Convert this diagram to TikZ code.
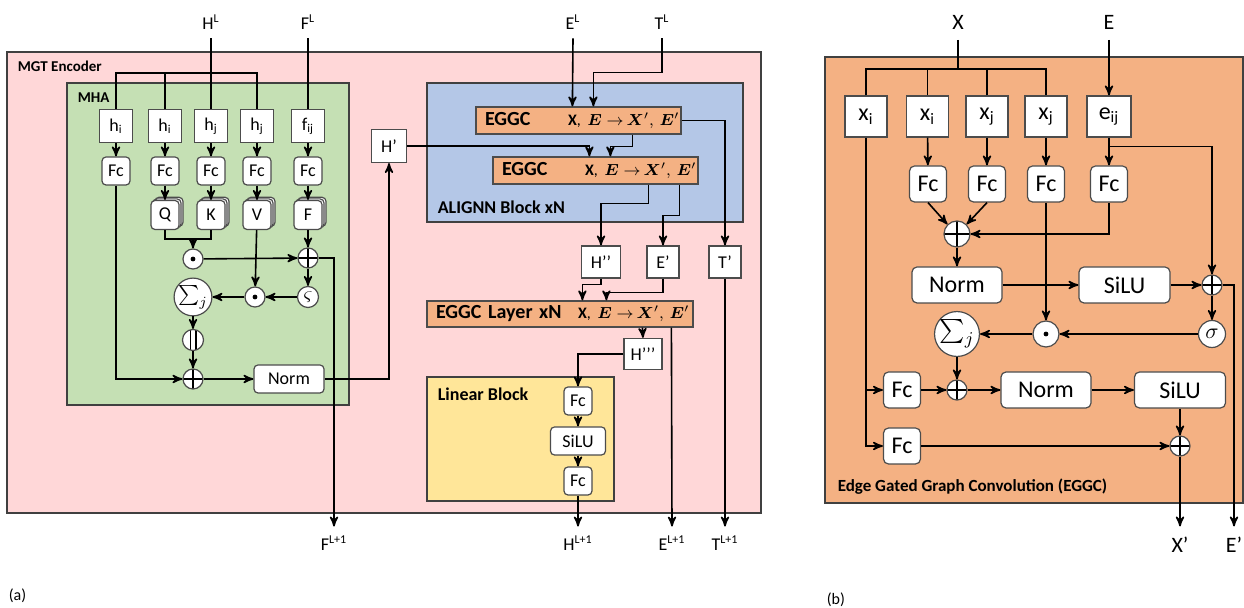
\documentclass[tikz,border=0pt]{standalone}
\usepackage{amsmath}
\usepackage{fontspec}
\setmainfont{Carlito}
\usepackage{tikz}
\usetikzlibrary{arrows,fit,shadows}

\definecolor{encpink}{HTML}{FFD7D8}
\definecolor{mhagreen}{HTML}{C5E0B4}
\definecolor{alignblue}{HTML}{B4C7E7}
\definecolor{eggcorange}{HTML}{F4B183}
\definecolor{linyellow}{HTML}{FFE699}

\newcommand{\eggcline}[2]{\mbox{\makebox[#1][l]{\fontsize{10}{12}\selectfont\textbf{#2}}%
  {\fontsize{8}{10}\selectfont\textbf{X},\ $\boldsymbol{E}\;{\rightarrow}\,\boldsymbol{X}',\,\boldsymbol{E}'$}}}

\begin{document}
\begin{tikzpicture}[->, >=stealth', thick, x=0.5pt, y=-0.5pt]
    \tikzstyle{cont}=[draw=black!75, line width=1pt, inner sep=0pt]
    \tikzstyle{title}=[anchor=west, inner sep=0pt, font=\bfseries\fontsize{7.5}{9}\selectfont]
    \tikzstyle{lbl}=[inner sep=4pt, font=\fontsize{9}{10}\selectfont]
    \tikzstyle{sqbox}=[draw=black!70, fill=white, minimum width=16.5pt, minimum height=16.5pt,
                       inner sep=0pt, semithick, font=\fontsize{9}{10}\selectfont]
    \tikzstyle{fcbox}=[sqbox, rounded corners=2pt, minimum width=14pt, minimum height=14pt]
    \tikzstyle{stackbox}=[fcbox, minimum height=14.5pt,
                          double copy shadow={shadow xshift=1pt, shadow yshift=0.8pt, draw=black!70, fill=white}]
    \tikzstyle{opc}=[circle, draw=black!70, fill=white, minimum size=10pt, inner sep=0pt, semithick,
                     font=\fontsize{10}{12}\selectfont]
    \tikzstyle{plusop}=[opc, path picture={\draw[-, black] (path picture bounding box.north) -- (path picture bounding box.south)
                        (path picture bounding box.west) -- (path picture bounding box.east);}]
    \tikzstyle{dotop}=[opc, path picture={\fill[black] (path picture bounding box.center) circle (1.2pt);}]
    \tikzstyle{catop}=[opc, minimum size=10.5pt,
                       path picture={\draw[-, black, line width=0.9pt]
                        ([xshift=-1.3pt]path picture bounding box.north) -- ([xshift=-1.3pt]path picture bounding box.south)
                        ([xshift=1.3pt]path picture bounding box.north) -- ([xshift=1.3pt]path picture bounding box.south);}]
    \tikzstyle{eggcbar}=[draw=black!70, fill=eggcorange, semithick, inner xsep=4.5pt, inner ysep=0pt,
                         minimum height=13.5pt, align=left]
    \tikzstyle{blbl}=[inner sep=5pt, font=\fontsize{11}{13}\selectfont]
    \tikzstyle{bbox}=[sqbox, minimum width=21pt, minimum height=20.5pt, font=\fontsize{12}{14}\selectfont]
    \tikzstyle{bfc}=[bbox, rounded corners=2.5pt, minimum width=18.5pt, minimum height=18pt]
    \tikzstyle{bop}=[opc, minimum size=13.5pt, font=\fontsize{11}{13}\selectfont]

    \useasboundingbox (0,0) rectangle (1244,608);

    % containers
    \node[cont, fill=encpink, fit={(7,52) (761,513)}]     (enc)       {};
    \node[cont, fill=mhagreen, fit={(67,83) (349,405)}]   (mha)       {};
    \node[cont, fill=alignblue, fit={(427,83) (743,222)}] (alignn)    {};
    \node[cont, fill=linyellow, fit={(427,377) (614,501)}] (linear)   {};
    \node[cont, fill=eggcorange, fit={(825,57) (1243,503)}] (eggcpanel) {};

    \node[title] (encT) at (17,66)  {MGT Encoder};
    \node[title] (mhaT) at (77,98)  {MHA};
    \node[title, font=\bfseries\fontsize{9}{11}\selectfont] (alT)  at (437,207) {ALIGNN Block xN};
    \node[title, font=\bfseries\fontsize{9}{11}\selectfont] (linT) at (437,394) {Linear Block};
    \node[title, font=\bfseries\fontsize{8.5}{10}\selectfont] (ggT) at (837,487) {Edge Gated Graph Convolution (EGGC)};
    \node[anchor=west, inner sep=0pt, font=\fontsize{8}{10}\selectfont] (capA) at (8,596)   {(a)};
    \node[anchor=west, inner sep=0pt, font=\fontsize{8}{10}\selectfont] (capB) at (826,600) {(b)};

    % (a) inputs and outputs
    \node[lbl] (HL)  at (211,22)  {H\textsuperscript{L}};
    \node[lbl] (FL)  at (308,22)  {F\textsuperscript{L}};
    \node[lbl] (EL)  at (573,22)  {E\textsuperscript{L}};
    \node[lbl] (TL)  at (662,22)  {T\textsuperscript{L}};
    \node[lbl] (FL1) at (334,543) {F\textsuperscript{L+1}};
    \node[lbl] (HL1) at (578,543) {H\textsuperscript{L+1}};
    \node[lbl] (EL1) at (672,543) {E\textsuperscript{L+1}};
    \node[lbl] (TL1) at (725,543) {T\textsuperscript{L+1}};

    % MHA
    \node[sqbox] (hi1) at (116,126) {h\textsubscript{i}};
    \node[sqbox] (hi2) at (165,126) {h\textsubscript{i}};
    \node[sqbox] (hj1) at (211,126) {h\textsubscript{j}};
    \node[sqbox] (hj2) at (257,126) {h\textsubscript{j}};
    \node[sqbox] (fij) at (308,126) {f\textsubscript{ij}};
    \foreach \n/\x in {fc1/116, fc2/165, fc3/211, fc4/257, fc5/308}
        \node[fcbox] (\n) at (\x,171) {Fc};
    \node[stackbox] (Q) at (165,215) {Q};
    \node[stackbox] (K) at (211,215) {K};
    \node[stackbox] (V) at (257,215) {V};
    \node[stackbox] (F) at (308,215) {F};
    \node[dotop]  (dot1)  at (193,259) {};
    \node[plusop] (plus1) at (308,258) {};
    \node[opc, minimum size=10.5pt] (soft) at (308,297) {$\varsigma$};
    \node[dotop]  (dot2)  at (255,297) {};
    \node[opc, minimum size=15pt] (sum1) at (193,297) {$\sum_j$};
    \node[catop]  (cat)   at (193,340) {};
    \node[plusop] (plus2) at (193,379) {};
    \node[fcbox, minimum width=35pt] (norm1) at (289,379) {Norm};
    \node[sqbox, minimum width=17.5pt] (Hp) at (389,146) {H’};

    % ALIGNN side
    \node[eggcbar, text width=93.5pt] (eggc1) at (578.5,120.5) {\eggcline{41.5pt}{EGGC}};
    \node[eggcbar, text width=93.5pt] (eggc2) at (595.5,170.5) {\eggcline{41.5pt}{EGGC}};
    \node[sqbox, minimum width=19.5pt, minimum height=16pt] (Hpp) at (601,262) {H’’};
    \node[sqbox, minimum width=16pt, minimum height=16pt]   (Ep)  at (663,262) {E’};
    \node[sqbox, minimum width=16pt, minimum height=16pt]   (Tp)  at (725,262) {T’};
    \node[eggcbar, text width=124pt, minimum height=13pt] (layer) at (560,314) {\eggcline{71pt}{EGGC Layer xN}};
    \node[sqbox, minimum width=19pt, minimum height=15.5pt] (Hppp) at (643,354) {H’’’};
    \node[fcbox] (lin1) at (578,401) {Fc};
    \node[fcbox, minimum width=27.5pt] (linsilu) at (578,441) {SiLU};
    \node[fcbox] (lin2) at (578,481) {Fc};

    % (a) connectors
    \coordinate (hsplit) at (211,73);
    \draw[-] (HL.south) -- (hj1.north);
    \draw[-] (hi1.north) |- (hsplit) -| (hj2.north);
    \draw[-] (hi2.north) -- (hi2.north |- hsplit);
    \draw[-] (FL.south) -- (fij.north);
    \foreach \a/\b in {hi1/fc1, hi2/fc2, hj1/fc3, hj2/fc4, fij/fc5, fc2/Q, fc3/K, fc4/V, fc5/F}
        \draw (\a) -- (\b);
    \coordinate (qk) at (193,239);
    \draw[-] (Q.south) |- (qk) -| (K.south);
    \draw (qk) -- (dot1);
    \draw (dot1) -- (plus1);
    \draw (F) -- (plus1);
    \draw (plus1) -- (soft);
    \draw (soft) -- (dot2);
    \draw (V) -- (dot2);
    \draw (dot2) -- (sum1);
    \draw (sum1) -- (cat);
    \draw (cat) -- (plus2);
    \draw (fc1.south) |- (plus2.west);
    \draw (plus2) -- (norm1);
    \draw (norm1.east) -| (Hp.south);
    \draw (plus1.east) -| (FL1.north);
    \draw (Hp.east) -| ([xshift=48.5pt]eggc2.north west);
    \draw (EL.south) -- ([xshift=48.5pt]eggc1.north west);
    \draw (TL.south) -- ++(0,34) -| ([xshift=59pt]eggc1.north west);
    \draw (eggc1.east) -| (Tp.north);
    \draw ([xshift=78.5pt]eggc1.south west) -- ++(0,12) -| ([xshift=59pt]eggc2.north west);
    \draw ([xshift=78pt]eggc2.south west) -- ++(0,19) -| (Hpp.north);
    \draw ([xshift=93.5pt]eggc2.south west) -- ++(0,31) -| (Ep.north);
    \draw (Hpp.south) -- ++(0,6) -| ([xshift=78pt]layer.north west);
    \draw (Ep.south) -- ++(0,14) -| ([xshift=90pt]layer.north west);
    \draw ([xshift=108pt]layer.south west) -- (Hppp.north);
    \draw ([xshift=122.5pt]layer.south west) -- (EL1.north);
    \draw (Hppp.west) -| (lin1.north);
    \draw (lin1) -- (linsilu);
    \draw (linsilu) -- (lin2);
    \draw (lin2) -- (HL1);
    \draw (Tp) -- (TL1);

    % (b) EGGC
    \node[blbl] (X)    at (958,22)  {X};
    \node[blbl] (E)    at (1109,22) {E};
    \node[blbl] (Xout) at (1180,545) {X’};
    \node[blbl] (Eout) at (1234,545) {E’};
    \node[bbox] (xi1) at (866,116.5)   {x\textsubscript{i}};
    \node[bbox] (xi2) at (927.5,116.5) {x\textsubscript{i}};
    \node[bbox] (xj1) at (987,116.5)   {x\textsubscript{j}};
    \node[bbox] (xj2) at (1046,116.5)  {x\textsubscript{j}};
    \node[bbox, minimum width=22pt] (eij) at (1109,116.5) {e\textsubscript{ij}};
    \foreach \n/\x in {gfc1/928, gfc2/987, gfc3/1046, gfc4/1109}
        \node[bfc] (\n) at (\x,184) {Fc};
    \node[bop, plusop, minimum size=13pt] (gplus1) at (957,234) {};
    \node[bfc, minimum width=45pt]   (gnorm1) at (957,285)    {Norm};
    \node[bfc, minimum width=45.5pt] (gsilu1) at (1124.5,285) {SiLU};
    \node[bop, plusop] (gplus2) at (1212,285) {};
    \node[bop, dotop, minimum size=13pt] (gdot) at (1046,334) {};
    \node[bop] (gsig) at (1212,334) {$\sigma$};
    \node[bop, minimum size=19pt, font=\fontsize{13}{15}\selectfont] (gsum) at (957,334) {$\sum_j$};
    \node[bfc] (gfm1) at (902,390) {Fc};
    \node[bfc] (gfm2) at (902,446) {Fc};
    \node[bop, plusop] (gplus3) at (957,390) {};
    \node[bfc, minimum width=45pt]   (gnorm2) at (1046,390) {Norm};
    \node[bfc, minimum width=45.5pt] (gsilu2) at (1180,390) {SiLU};
    \node[bop, plusop] (gplus4) at (1180,446) {};

    % (b) connectors
    \coordinate (xsplit) at (958,69);
    \draw[-] (X.south) -- (xsplit);
    \draw[-] (xi1.north) |- (xsplit) -| (xj2.north);
    \draw[-] (xi2.north) -- (xi2.north |- xsplit);
    \draw[-] (xj1.north) -- (xj1.north |- xsplit);
    \draw (E) -- (eij);
    \foreach \a/\b in {xi2/gfc1, xj1/gfc2, xj2/gfc3, eij/gfc4}
        \draw (\a) -- (\b);
    \draw (eij.south) ++(0,9) -| (gplus2.north);
    \draw (gfc1.south) -- (gplus1.north west);
    \draw (gfc2.south) -- (gplus1.north east);
    \draw (gfc4.south) |- (gplus1.east);
    \draw (gplus1) -- (gnorm1);
    \draw (gnorm1) -- (gsilu1);
    \draw (gsilu1) -- (gplus2);
    \draw (gfc3) -- (gdot);
    \draw (gplus2) -- (gsig);
    \draw (gsig) -- (gdot);
    \draw (gdot) -- (gsum);
    \draw (gsum) -- (gplus3);
    \draw (gplus2.east) -| (Eout.north);
    \draw (xi1.south) |- (gfm2.west);
    \draw (xi1.south |- gfm1.west) -- (gfm1.west);
    \draw (gfm1) -- (gplus3);
    \draw (gplus3) -- (gnorm2);
    \draw (gnorm2) -- (gsilu2);
    \draw (gsilu2) -- (gplus4);
    \draw (gfm2) -- (gplus4);
    \draw (gplus4) -- (Xout);
\end{tikzpicture}
\end{document}
